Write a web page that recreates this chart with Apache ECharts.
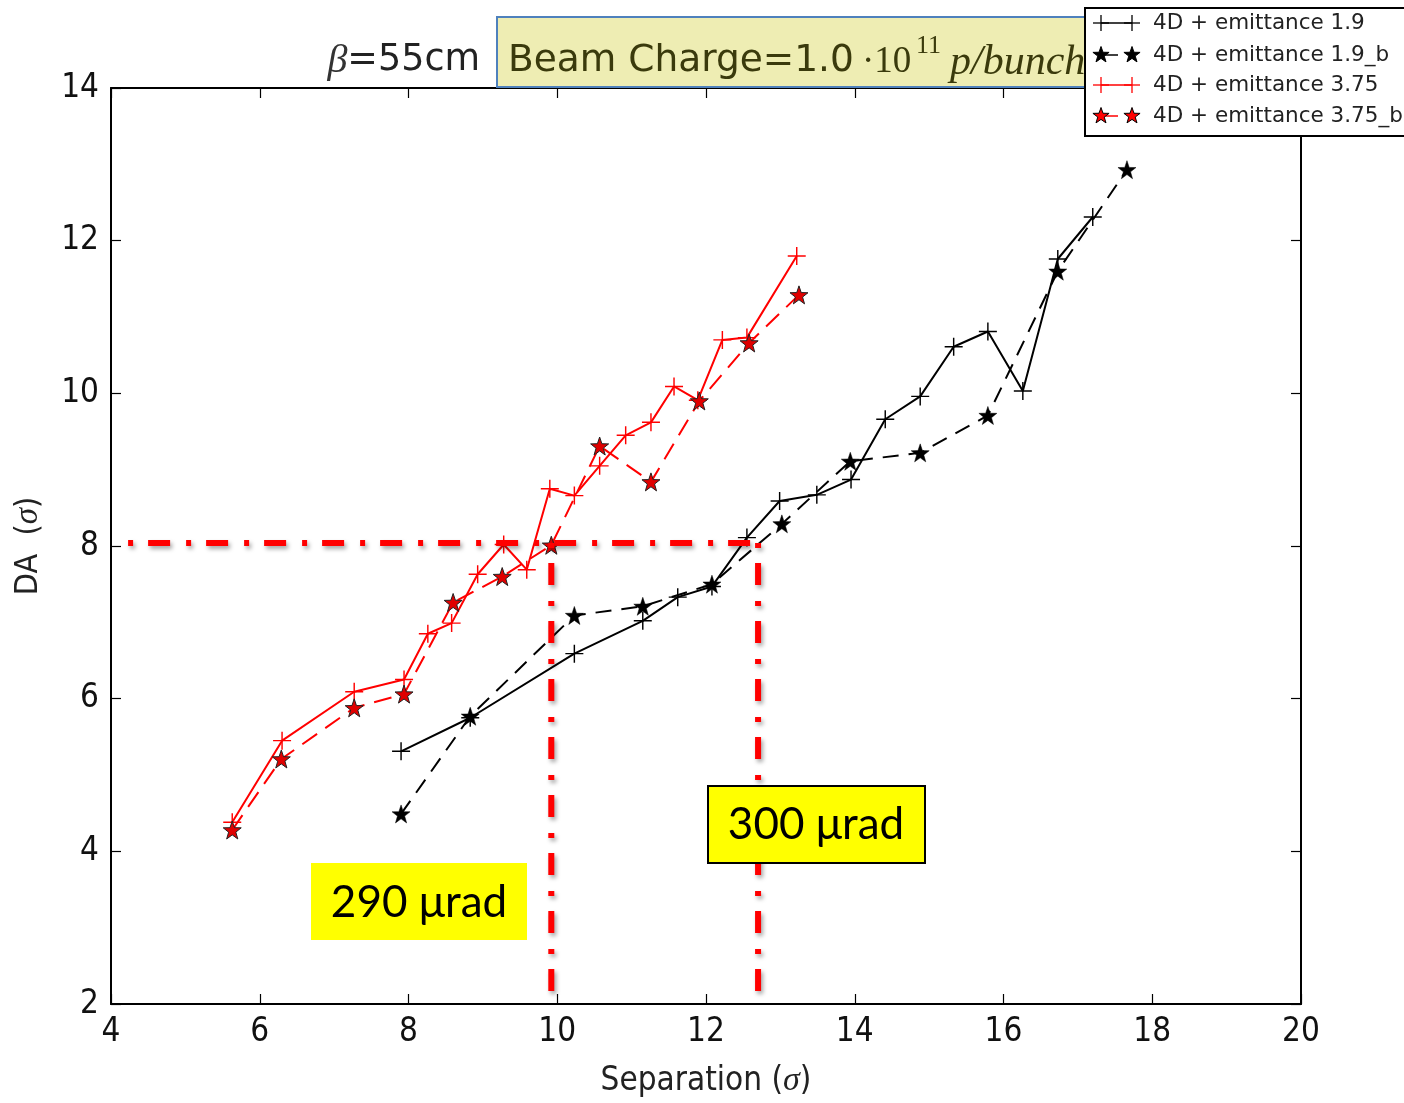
<!DOCTYPE html>
<html>
<head>
<meta charset="utf-8">
<script src="https://cdn.jsdelivr.net/npm/echarts@6/dist/echarts.min.js"></script>
<style>
html,body{margin:0;padding:0;background:#fff;overflow:hidden;}
#chart{width:1404px;height:1103px;}
</style>
</head>
<body>
<div id="chart"></div>
<script>
// ---------------- data ----------------
var seriesNames = ['4D + emittance 1.9', '4D + emittance 1.9_b', '4D + emittance 3.75', '4D + emittance 3.75_b'];

var emit19X = [7.90, 8.83, 10.23, 11.15, 11.62, 12.08, 12.55, 12.99, 13.49, 13.95, 14.41, 14.88, 15.33, 15.79, 16.26, 16.73, 17.20];
var emit19Y = [5.31, 5.75, 6.59, 7.02, 7.33, 7.47, 8.11, 8.59, 8.67, 8.87, 9.66, 9.96, 10.61, 10.81, 10.03, 11.76, 12.31];

var emit19bX = [7.90, 8.83, 10.23, 11.15, 12.08, 13.02, 13.94, 14.88, 15.79, 16.73, 17.66];
var emit19bY = [4.49, 5.77, 7.09, 7.21, 7.50, 8.29, 9.11, 9.22, 9.71, 11.60, 12.93];

var emit375X = [5.63, 6.30, 7.27, 7.94, 8.26, 8.58, 8.93, 9.28, 9.59, 9.90, 10.23, 10.57, 10.92, 11.26, 11.57, 11.89, 12.22, 12.55, 13.22];
var emit375Y = [4.38, 5.45, 6.09, 6.25, 6.85, 6.99, 7.63, 8.02, 7.69, 8.75, 8.66, 9.05, 9.45, 9.62, 10.09, 9.91, 10.70, 10.73, 11.80];

var emit375bX = [5.63, 6.29, 7.27, 7.94, 8.60, 9.26, 9.92, 10.57, 11.26, 11.91, 12.58, 13.25];
var emit375bY = [4.28, 5.21, 5.88, 6.06, 7.26, 7.60, 8.01, 9.31, 8.84, 9.90, 10.66, 11.29];

// guide lines (DA = 8 sigma threshold and the two crossing separations)
var guideDA = 8.04;
var guideStartX = 4.23;
var crossX290 = 9.92;
var crossX300 = 12.70;
var guideBottomY = 2.12;

var xTicks = [4, 6, 8, 10, 12, 14, 16, 18, 20];
var yTicks = [2, 4, 6, 8, 10, 12, 14];

var annot290 = '290 \u03bcrad';
var annot300 = '300 \u03bcrad';

// ---------------- helpers ----------------
function zip(xs, ys) { return xs.map(function (x, i) { return [x, ys[i]]; }); }

var PLUS = 'path://M4.6,0H5.4V4.6H10V5.4H5.4V10H4.6V5.4H0V4.6H4.6Z';
var STAR = 'path://M0,-10L2.35,-3.24L9.51,-3.09L3.8,1.24L5.88,8.09L0,4L-5.88,8.09L-3.8,1.24L-9.51,-3.09L-2.35,-3.24Z';

var condensed = '"DejaVu Sans Condensed", "Liberation Sans Narrow", "DejaVu Sans", sans-serif';
var sans = '"DejaVu Sans", sans-serif';
var serif = '"Liberation Serif", "DejaVu Serif", serif';

var guideStyle = {
  color: '#ff0000', width: 6, type: [5, 15, 22, 16], cap: 'butt',
  shadowColor: 'rgba(0,0,0,0.35)', shadowBlur: 4, shadowOffsetX: 2, shadowOffsetY: 3
};

function starPoints(cx, cy, r) {
  var pts = [];
  for (var i = 0; i < 10; i++) {
    var rr = (i % 2 === 0) ? r : r * 0.4;
    var a = -Math.PI / 2 + i * Math.PI / 5;
    pts.push([cx + rr * Math.cos(a), cy + rr * Math.sin(a)]);
  }
  return pts;
}

function axisCommon(extra) {
  var base = {
    type: 'value',
    axisLine: { show: true, onZero: false, lineStyle: { color: '#000', width: 2 } },
    axisTick: { show: true, inside: true, length: 10, lineStyle: { color: '#000', width: 1.2 } },
    splitLine: { show: false },
    axisLabel: { show: true, fontSize: 33, color: '#111', fontFamily: condensed, margin: 12 }
  };
  for (var k in extra) base[k] = extra[k];
  return base;
}

// ---------------- legend (graphic) ----------------
var legendStyles = [
  { color: '#000', marker: 'plus', dashed: false, fill: '#000' },
  { color: '#000', marker: 'star', dashed: true, fill: '#000' },
  { color: '#ff0000', marker: 'plus', dashed: false, fill: '#ff0000' },
  { color: '#ff0000', marker: 'star', dashed: true, fill: '#ff0000' }
];
var legendRowsY = [23, 55, 85, 116];
var legendGraphics = [{
  type: 'rect', shape: { x: 1085, y: 8, width: 330, height: 128 },
  style: { fill: '#fff', stroke: '#000', lineWidth: 2 }, z: 200
}];
seriesNames.forEach(function (name, i) {
  var st = legendStyles[i], y = legendRowsY[i];
  legendGraphics.push({
    type: 'line', shape: { x1: 1101, y1: y, x2: st.dashed ? 1118 : 1132, y2: y },
    style: { stroke: st.color, lineWidth: 1.5 }, z: 201
  });
  [1101, 1132].forEach(function (cx) {
    if (st.marker === 'plus') {
      legendGraphics.push({ type: 'line', shape: { x1: cx - 8, y1: y, x2: cx + 8, y2: y }, style: { stroke: st.color, lineWidth: 1.3 }, z: 202 });
      legendGraphics.push({ type: 'line', shape: { x1: cx, y1: y - 8, x2: cx, y2: y + 8 }, style: { stroke: st.color, lineWidth: 1.3 }, z: 202 });
    } else {
      legendGraphics.push({ type: 'polygon', shape: { points: starPoints(cx, y, 8.5) }, style: { fill: st.fill, stroke: '#000', lineWidth: 1 }, z: 202 });
    }
  });
  legendGraphics.push({
    type: 'text', x: 1153, y: y, z: 203,
    style: { text: name, fontSize: 21.5, fontFamily: sans, fill: '#222', textVerticalAlign: 'middle', textAlign: 'left' }
  });
});

// ---------------- title & annotation graphics ----------------
var titleGraphics = [
  {
    type: 'text', x: 480, y: 61, z: 150,
    style: {
      text: '{b|\u03b2}{n|=55cm}', textAlign: 'right', textVerticalAlign: 'middle',
      rich: {
        b: { fontSize: 40, fontFamily: serif, fontStyle: 'italic', fill: '#333' },
        n: { fontSize: 36.5, fontFamily: sans, fill: '#222' }
      }
    }
  },
  {
    type: 'rect', shape: { x: 497, y: 17, width: 640, height: 70 }, z: 150,
    style: { fill: '#eeedb3', stroke: '#4f81bd', lineWidth: 2 }
  },
  {
    type: 'text', x: 508, y: 61, z: 151,
    style: { text: 'Beam Charge=1.0', fontSize: 37.5, fontFamily: sans, fill: '#3a3a0c', textVerticalAlign: 'middle' }
  },
  {
    type: 'text', x: 862, y: 62, z: 151,
    style: { text: '\u00b710', fontSize: 37, fontFamily: serif, fill: '#3a3a0c', textVerticalAlign: 'middle' }
  },
  {
    type: 'text', x: 916, y: 46, z: 151,
    style: { text: '11', fontSize: 26, fontFamily: serif, fill: '#3a3a0c', textVerticalAlign: 'middle' }
  },
  {
    type: 'text', x: 950, y: 63, z: 151,
    style: { text: 'p/bunch', fontSize: 42, fontFamily: serif, fontStyle: 'italic', fill: '#3a3a0c', textVerticalAlign: 'middle' }
  },
  // annotation boxes
  {
    type: 'rect', shape: { x: 311, y: 863, width: 216, height: 77 }, z: 160,
    style: { fill: '#ffff00' }
  },
  {
    type: 'text', x: 419, y: 903, z: 161,
    style: { text: annot290, fontSize: 44, fontFamily: 'Lato, "Open Sans", sans-serif', fill: '#000', textAlign: 'center', textVerticalAlign: 'middle' }
  },
  {
    type: 'rect', shape: { x: 708, y: 786, width: 217, height: 77 }, z: 160,
    style: { fill: '#ffff00', stroke: '#000', lineWidth: 2 }
  },
  {
    type: 'text', x: 816, y: 825, z: 161,
    style: { text: annot300, fontSize: 44, fontFamily: 'Lato, "Open Sans", sans-serif', fill: '#000', textAlign: 'center', textVerticalAlign: 'middle' }
  }
];

// ---------------- chart ----------------
var chart = echarts.init(document.getElementById('chart'), null, { renderer: 'canvas', width: 1404, height: 1103 });

var option = {
  animation: false,
  backgroundColor: '#fff',
  grid: { left: 111, top: 88, width: 1190, height: 922 },
  xAxis: [
    axisCommon({
      min: xTicks[0], max: xTicks[xTicks.length - 1], interval: 2, position: 'bottom',
      name: 'Separation ({i|\u03c3})', nameLocation: 'middle', nameGap: 60,
      nameTextStyle: { fontSize: 33, color: '#222', fontFamily: condensed,
        rich: { i: { fontSize: 34, fontFamily: serif, fontStyle: 'italic', color: '#222' } } }
    }),
    axisCommon({
      min: xTicks[0], max: xTicks[xTicks.length - 1], interval: 2, position: 'top',
      axisLabel: { show: false }
    })
  ],
  yAxis: [
    axisCommon({
      min: yTicks[0], max: yTicks[yTicks.length - 1], interval: 2, position: 'left',
      name: 'DA  ({i|\u03c3})', nameLocation: 'middle', nameGap: 66,
      nameTextStyle: { fontSize: 32, color: '#222', fontFamily: condensed,
        rich: { i: { fontSize: 33, fontFamily: serif, fontStyle: 'italic', color: '#222' } } }
    }),
    axisCommon({
      min: yTicks[0], max: yTicks[yTicks.length - 1], interval: 2, position: 'right',
      axisLabel: { show: false }
    })
  ],
  series: [
    {
      name: seriesNames[0], type: 'line', data: zip(emit19X, emit19Y),
      lineStyle: { color: '#000', width: 2 },
      symbol: PLUS, symbolSize: 18, itemStyle: { color: '#000' }
    },
    {
      name: seriesNames[1], type: 'line', data: zip(emit19bX, emit19bY),
      lineStyle: { color: '#000', width: 2, type: [16, 10] },
      symbol: STAR, symbolSize: 18, itemStyle: { color: '#000', borderColor: '#000', borderWidth: 0.5 }
    },
    {
      name: seriesNames[2], type: 'line', data: zip(emit375X, emit375Y),
      lineStyle: { color: '#ff0000', width: 2 },
      symbol: PLUS, symbolSize: 18, itemStyle: { color: '#ff0000' }
    },
    {
      name: seriesNames[3], type: 'line', data: zip(emit375bX, emit375bY),
      lineStyle: { color: '#ff0000', width: 2, type: [18, 10] },
      symbol: STAR, symbolSize: 18, itemStyle: { color: '#e00000', borderColor: '#222', borderWidth: 1 }
    },
    {
      name: 'guideH', type: 'line', data: [[guideStartX, guideDA], [crossX300, guideDA]],
      symbol: 'none', lineStyle: guideStyle, z: 5, silent: true
    },
    {
      name: 'guideV290', type: 'line', data: [[crossX290, guideDA], [crossX290, guideBottomY]],
      symbol: 'none', lineStyle: guideStyle, z: 5, silent: true
    },
    {
      name: 'guideV300', type: 'line', data: [[crossX300, guideDA], [crossX300, guideBottomY]],
      symbol: 'none', lineStyle: guideStyle, z: 5, silent: true
    }
  ],
  graphic: titleGraphics.concat(legendGraphics)
};

chart.setOption(option);
</script>
</body>
</html>
